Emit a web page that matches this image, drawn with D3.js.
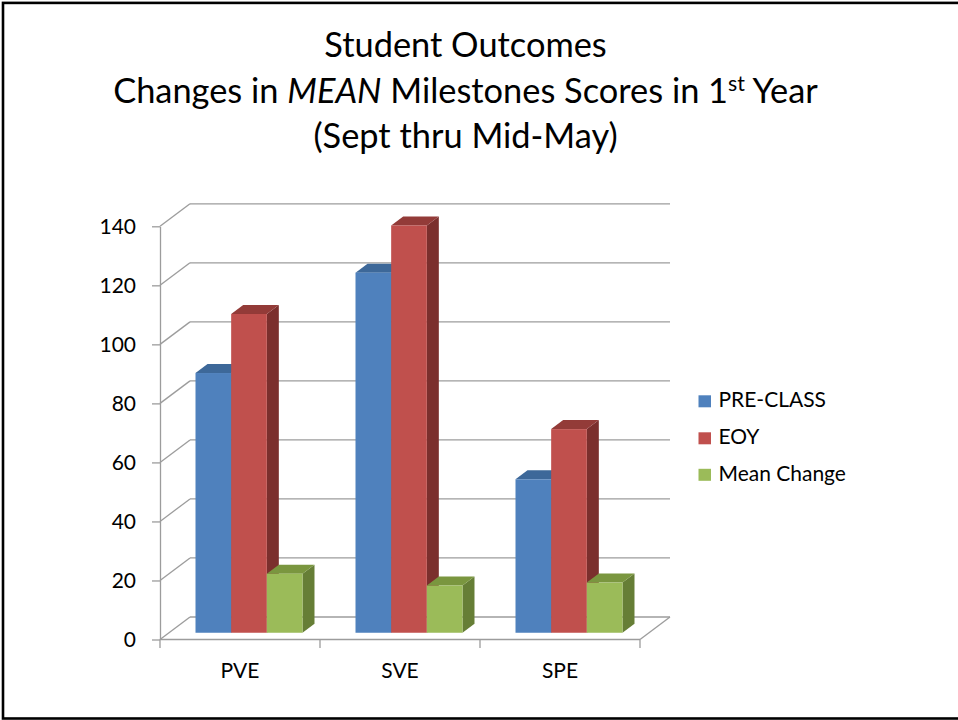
<!DOCTYPE html>
<html>
<head>
<meta charset="utf-8">
<script src="https://cdn.jsdelivr.net/npm/d3@7"></script>
<style>
  body { margin: 0; background: #fff; }
  text { font-family: Lato, "Open Sans", sans-serif; fill: #000; }
</style>
</head>
<body>
<svg id="chart" width="958" height="720"></svg>
<script>
// ---- data ----
const categories = ["PVE", "SVE", "SPE"];
const seriesNames = ["PRE-CLASS", "EOY", "Mean Change"];
const preClass = [88, 122, 52];
const eoy = [108, 138, 69];
const meanChange = [20, 16, 17];
const yTicks = [0, 20, 40, 60, 80, 100, 120, 140];
const titleLine1 = "Student Outcomes";
const titleLine3 = "(Sept thru Mid-May)";

const seriesValues = [preClass, eoy, meanChange];
const colors = [
  { front: "#4F81BD", top: "#3D6899", side: "#385D8A" },
  { front: "#C0504D", top: "#933B38", side: "#7B2F2D" },
  { front: "#9BBB59", top: "#7A963F", side: "#667E36" }
];

const svg = d3.select("#chart");
svg.append("rect").attr("x", 0).attr("y", 0).attr("width", 958).attr("height", 720).attr("fill", "#fff");
// slide frame
svg.append("rect").attr("x", 3).attr("y", 2.9).attr("width", 1000).attr("height", 715.6)
  .attr("fill", "none").attr("stroke", "#000").attr("stroke-width", 2.6);

// ---- geometry ----
const depth = { x: 30, y: -22.5 };
const frontFrac = 0.3, depthFrac = 0.4;
const x = d3.scaleBand().domain(categories).range([160, 640]).paddingInner(0).paddingOuter(0);
const xs = d3.scaleBand().domain(seriesNames).range([0, x.bandwidth()]).paddingInner(0).paddingOuter(0.743);
const y = d3.scaleLinear().domain([0, 140]).range([639.5, 226.3]);
const gridColor = "#9C9C9C";

const g = svg.append("g");

// back wall gridlines + left wall diagonals
yTicks.forEach(t => {
  const yf = y(t);
  g.append("line").attr("x1", 160 + depth.x).attr("x2", 640 + depth.x)
    .attr("y1", yf + depth.y).attr("y2", yf + depth.y)
    .attr("stroke", gridColor).attr("stroke-width", 1.3);
  g.append("line").attr("x1", 160).attr("x2", 160 + depth.x)
    .attr("y1", yf).attr("y2", yf + depth.y)
    .attr("stroke", gridColor).attr("stroke-width", 1.3);
});
// floor
g.append("line").attr("x1", 160).attr("x2", 640).attr("y1", y(0)).attr("y2", y(0))
  .attr("stroke", gridColor).attr("stroke-width", 1.3);
g.append("line").attr("x1", 640).attr("x2", 640 + depth.x).attr("y1", y(0)).attr("y2", y(0) + depth.y)
  .attr("stroke", gridColor).attr("stroke-width", 1.3);

// y axis
const yAxis = d3.axisLeft(y).tickValues(yTicks).tickSize(8).tickSizeOuter(0).tickPadding(16);
const ya = svg.append("g").attr("transform", "translate(160,0)").call(yAxis);
ya.select(".domain").attr("stroke", gridColor).attr("stroke-width", 1.3);
ya.selectAll(".tick line").attr("stroke", gridColor).attr("stroke-width", 1.3);
ya.selectAll(".tick text").attr("font-family", "Lato").attr("font-size", 20).attr("fill", "#000");

// category ticks at band boundaries
const boundaries = categories.map(c => x(c)).concat([x.range()[1]]);
boundaries.forEach(bx => {
  svg.append("line").attr("x1", bx).attr("x2", bx).attr("y1", y(0)).attr("y2", y(0) + 8.5)
    .attr("stroke", gridColor).attr("stroke-width", 1.3);
});
const catLabels = svg.append("g").selectAll("text").data(categories).join("text")
  .attr("x", d => x(d) + x.bandwidth() / 2).attr("y", 677.7)
  .attr("text-anchor", "middle").attr("font-size", 20).text(d => d);

// bars
const bars = svg.append("g");
const f0 = { x: depth.x * frontFrac, y: depth.y * frontFrac };
const bd = { x: depth.x * depthFrac, y: depth.y * depthFrac };
categories.forEach((c, i) => {
  seriesNames.forEach((s, j) => {
    const v = seriesValues[j][i];
    const fx = x(c) + xs(s) + f0.x;
    const fy = y(v) + f0.y;
    const w = xs.bandwidth();
    const bot = y(0) + f0.y;
    const col = colors[j];
    bars.append("polygon")
      .attr("points", [[fx + w, fy], [fx + w + bd.x, fy + bd.y], [fx + w + bd.x, bot + bd.y], [fx + w, bot]].map(p => p.join(",")).join(" "))
      .attr("fill", col.side);
    bars.append("polygon")
      .attr("points", [[fx, fy], [fx + bd.x, fy + bd.y], [fx + w + bd.x, fy + bd.y], [fx + w, fy]].map(p => p.join(",")).join(" "))
      .attr("fill", col.top);
    bars.append("rect").attr("x", fx).attr("y", fy).attr("width", w).attr("height", bot - fy)
      .attr("fill", col.front);
  });
});

// legend
const legendY = [407.3, 444.3, 480.8];
const lg = svg.append("g");
seriesNames.forEach((s, j) => {
  lg.append("rect").attr("x", 698.5).attr("y", legendY[j] - 12).attr("width", 12.5).attr("height", 12)
    .attr("fill", colors[j].front);
});
const legendTexts = lg.selectAll("text.leg").data(seriesNames).join("text").attr("class", "leg")
  .attr("x", 718.5).attr("y", (d, j) => legendY[j]).attr("font-size", 20).text(d => d);

// fit small text size to Calibri-like widths (compromise between caps and lowercase)
const w0 = legendTexts.filter((d, j) => j === 0).node().getComputedTextLength();
const w2 = legendTexts.filter((d, j) => j === 2).node().getComputedTextLength();
const smallSize = 20 * (101 + 134) / (w0 + w2);
ya.selectAll(".tick text").attr("font-size", smallSize);
catLabels.attr("font-size", smallSize);
legendTexts.attr("font-size", smallSize);

// title
const cx = 465.5;
const t1 = svg.append("text").attr("x", cx).attr("y", 57).attr("text-anchor", "middle").attr("font-size", 36).text(titleLine1);
const t2 = svg.append("text").attr("x", cx).attr("y", 103).attr("text-anchor", "middle").attr("font-size", 36);
t2.append("tspan").text("Changes in ");
t2.append("tspan").attr("font-style", "italic").text("MEAN");
t2.append("tspan").text(" Milestones Scores in 1");
t2.append("tspan").attr("font-size", "0.62em").attr("dy", "-0.55em").text("st");
t2.append("tspan").attr("dy", "0.34em").text(" Year");
const t3 = svg.append("text").attr("x", cx).attr("y", 148).attr("text-anchor", "middle").attr("font-size", 36).text(titleLine3);
const titleSize = 36 * 705 / t2.node().getComputedTextLength();
[t1, t2, t3].forEach(t => t.attr("font-size", titleSize));
</script>
</body>
</html>
